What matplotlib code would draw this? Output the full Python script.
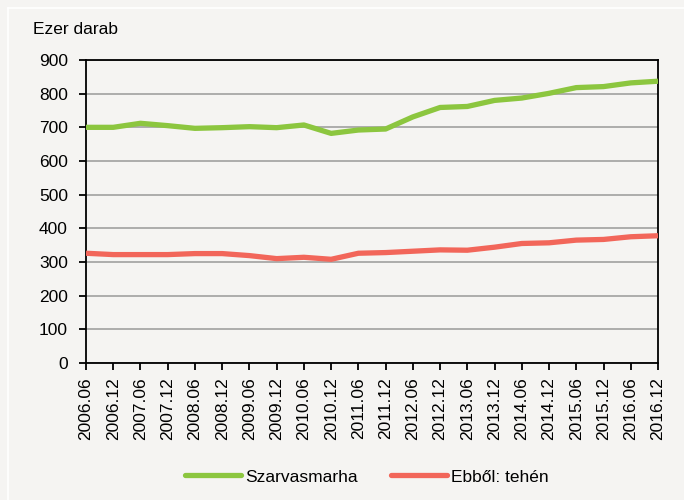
import matplotlib
matplotlib.use('Agg')
from matplotlib import pyplot as plt
from matplotlib.lines import Line2D

plt.rcParams['font.family'] = ['Liberation Sans', 'DejaVu Sans']

periods = ['2006.06', '2006.12', '2007.06', '2007.12', '2008.06', '2008.12',
           '2009.06', '2009.12', '2010.06', '2010.12', '2011.06', '2011.12',
           '2012.06', '2012.12', '2013.06', '2013.12', '2014.06', '2014.12',
           '2015.06', '2015.12', '2016.06', '2016.12']
szarvasmarha = [700, 700, 712, 705, 697, 699, 702, 699, 707, 682, 692,
                695, 731, 759, 762, 780, 787, 801, 818, 821, 832, 837]
tehen = [326, 322, 322, 322, 325, 325, 319, 310, 314, 308, 326,
         328, 332, 336, 335, 344, 355, 357, 365, 367, 375, 378]

bg = '#f5f4f2'
green = '#8cc63f'
red = '#f2665a'

fig = plt.figure(figsize=(6.84, 5.0), dpi=100, facecolor=bg)
# faint white border on left / top
fig.add_artist(Line2D([8 / 684, 8 / 684], [0, 1 - 8 / 500], color='white', lw=1.2))
fig.add_artist(Line2D([8 / 684, 1], [1 - 8 / 500, 1 - 8 / 500], color='white', lw=1.2))

ax = fig.add_axes([86 / 684, 1 - 363 / 500, (658 - 86) / 684, (363 - 60) / 500])
ax.set_facecolor(bg)

x = list(range(len(periods)))
ax.plot(x, szarvasmarha, color=green, lw=3.8, solid_capstyle='butt', label='Szarvasmarha', zorder=3)
ax.plot(x, tehen, color=red, lw=3.8, solid_capstyle='butt', label='Ebből: tehén', zorder=3)

ax.set_xlim(0, len(periods) - 1)
ax.set_ylim(0, 900)
ax.set_yticks(range(0, 901, 100))
ax.set_xticks(x)
ax.set_xticklabels(periods, rotation=90)
ax.yaxis.grid(True, color='#a0a0a0', lw=1.2)
ax.set_axisbelow(True)
for s in ax.spines.values():
    s.set_color('black')
    s.set_linewidth(1.3)
ax.tick_params(axis='both', direction='out', length=5, width=1.3, labelsize=12.5, colors='black')
ax.tick_params(axis='y', pad=8)
ax.tick_params(axis='x', pad=5)

fig.text(33 / 684, 1 - 30 / 500, 'Ezer darab', fontsize=12.5, va='center', ha='left')

leg = fig.legend(loc='center', bbox_to_anchor=(367 / 684, 1 - 477 / 500), ncol=2, frameon=False,
                 fontsize=12.5, handlelength=3.2, handletextpad=0.25, columnspacing=1.9)
for h in leg.legend_handles:
    h.set_solid_capstyle('round')

fig.savefig('out.png', dpi=100, facecolor=bg)
